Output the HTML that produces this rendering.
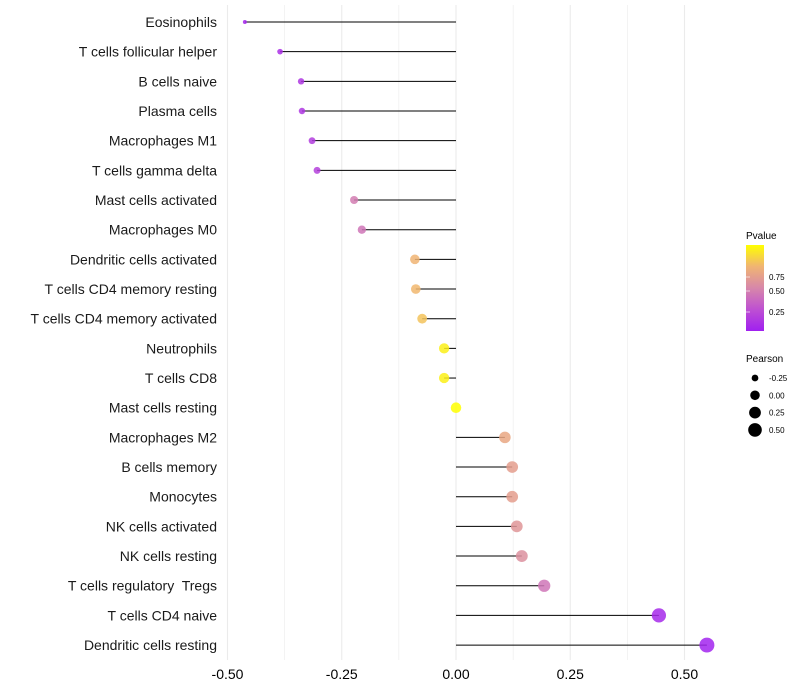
<!DOCTYPE html>
<html><head><meta charset="utf-8"><style>
body{margin:0;background:#fff;}
svg{font-family:"Liberation Sans",sans-serif;display:block;}
text{white-space:pre;}
</style></head><body>
<svg id="chart" width="800" height="700"></svg>
<script>
const categories=["Eosinophils","T cells follicular helper","B cells naive","Plasma cells","Macrophages M1","T cells gamma delta","Mast cells activated","Macrophages M0","Dendritic cells activated","T cells CD4 memory resting","T cells CD4 memory activated","Neutrophils","T cells CD8","Mast cells resting","Macrophages M2","B cells memory","Monocytes","NK cells activated","NK cells resting","T cells regulatory  Tregs","T cells CD4 naive","Dendritic cells resting"];
const pearson=[-0.462,-0.385,-0.339,-0.337,-0.315,-0.304,-0.223,-0.206,-0.090,-0.088,-0.074,-0.026,-0.026,0.0,0.107,0.123,0.123,0.133,0.144,0.193,0.444,0.549];
const pvalues=[0.03,0.08,0.12,0.12,0.15,0.17,0.45,0.42,0.75,0.76,0.8,0.95,0.95,1.0,0.68,0.63,0.63,0.58,0.55,0.42,0.05,0.02];
const xTicks=[-0.5,-0.25,0,0.25,0.5];
const xTickLabels=["-0.50","-0.25","0.00","0.25","0.50"];
const pTickVals=[0.75,0.50,0.25];
const sizeVals=[-0.25,0,0.25,0.5];
const NS="http://www.w3.org/2000/svg";
const svg=document.getElementById('chart');
const xs=v=>456+v*457;
const ys=i=>22+i*29.67;
const rs=v=>Math.sqrt(Math.max(4,27.8+51.5*v));
const stops=[[0,[160,32,240]],[0.25,[190,80,210]],[0.5,[215,135,170]],[0.75,[240,180,115]],[1,[255,255,0]]];
function col(p){for(let k=1;k<stops.length;k++){if(p<=stops[k][0]){const a=stops[k-1],b=stops[k];const t=(p-a[0])/(b[0]-a[0]);const c=a[1].map((x,j)=>Math.round(x+(b[1][j]-x)*t));return `rgb(${c})`;}}return 'rgb(255,255,0)';}
function mk(tag,attrs){const e=document.createElementNS(NS,tag);for(const k in attrs)e.setAttribute(k,attrs[k]);svg.appendChild(e);return e;}
for(let g=-0.5;g<=0.5001;g+=0.125){const l=mk('line',{x1:xs(g),x2:xs(g),y1:5,y2:660,stroke:'#ebebeb','stroke-width':g%0.25===0?1.1:0.6});

}
xTicks.forEach((v,i)=>{const t=mk('text',{x:xs(v),y:679,'text-anchor':'middle','font-size':14,fill:'#000'});t.textContent=xTickLabels[i];

});
categories.forEach((c,i)=>{
const t=mk('text',{x:217,y:ys(i)+5,'text-anchor':'end','font-size':14,fill:'#1a1a1a'});t.textContent=c;


const l=mk('line',{x1:xs(0),x2:xs(pearson[i]),y1:ys(i),y2:ys(i),stroke:'#000','stroke-width':1});


const d=mk('circle',{cx:xs(pearson[i]),cy:ys(i),r:rs(pearson[i]),fill:col(pvalues[i]),'fill-opacity':0.85});


});
const defs=mk('defs',{});
const lg=document.createElementNS(NS,'linearGradient');lg.setAttribute('id','pg');lg.setAttribute('x1',0);lg.setAttribute('y1',1);lg.setAttribute('x2',0);lg.setAttribute('y2',0);defs.appendChild(lg);
stops.forEach(s=>{const st=document.createElementNS(NS,'stop');st.setAttribute('offset',s[0]);st.setAttribute('stop-color',`rgb(${s[1]})`);lg.appendChild(st);});
let t=mk('text',{x:746,y:239,'font-size':10});t.textContent='Pvalue';


const bar=mk('rect',{x:746,y:245,width:18,height:86,fill:'url(#pg)'});


const pPos=[277,291,312];
pTickVals.forEach((v,i)=>{const tt=mk('text',{x:769,y:pPos[i]+3,'font-size':8});tt.textContent=v.toFixed(2);


const tk=mk('line',{x1:746,x2:750,y1:pPos[i],y2:pPos[i],stroke:'#fff','stroke-opacity':0.6});

});
t=mk('text',{x:746,y:362,'font-size':10});t.textContent='Pearson';


sizeVals.forEach((v,i)=>{const y=378+i*17.3;const c=mk('circle',{cx:755,cy:y,r:rs(v)-0.5,fill:'#000'});


const tt=mk('text',{x:769,y:y+3,'font-size':8});tt.textContent=v.toFixed(2);

});
</script>
</body></html>
